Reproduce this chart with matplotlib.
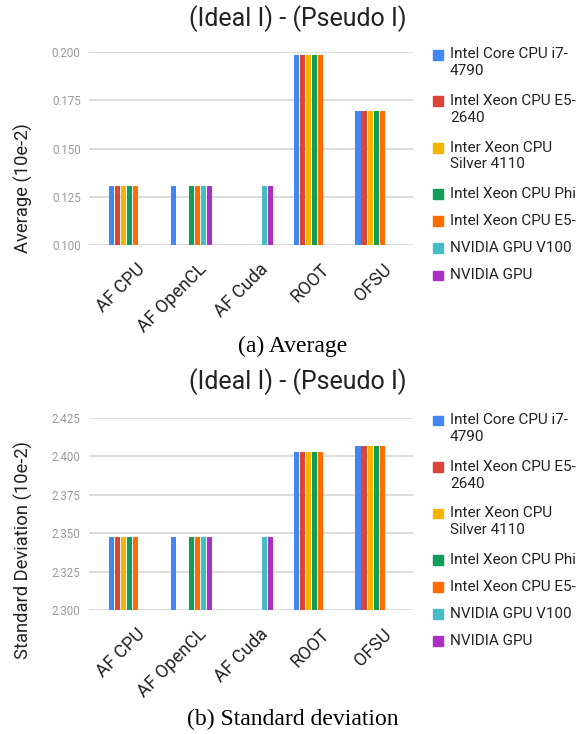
import numpy as np
import matplotlib
matplotlib.use('Agg')
import matplotlib.pyplot as plt
from matplotlib.patches import Rectangle

plt.rcParams['font.family'] = ['Roboto', 'DejaVu Sans']

W, H = 586, 734

categories = ['AF CPU', 'AF OpenCL', 'AF Cuda', 'ROOT', 'OFSU']
series = ['Intel Core CPU i7-\n4790', 'Intel Xeon CPU E5-\n2640', 'Inter Xeon CPU\nSilver 4110',
          'Intel Xeon CPU Phi', 'Intel Xeon CPU E5-', 'NVIDIA GPU V100', 'NVIDIA GPU']
colors = ['#4285F4', '#DB4437', '#F4B400', '#0F9D58', '#FF6D00', '#46BDC6', '#AB30C4']

nan = np.nan
# average (10e-2), one row per series
avg = [
    [0.1307, 0.1307, nan, 0.1984, 0.1693],
    [0.1307, nan, nan, 0.1984, 0.1693],
    [0.1307, nan, nan, 0.1984, 0.1693],
    [0.1307, 0.1307, nan, 0.1984, 0.1693],
    [0.1307, 0.1307, nan, 0.1984, 0.1693],
    [nan, 0.1307, 0.1307, nan, nan],
    [nan, 0.1307, 0.1307, nan, nan],
]
# standard deviation (10e-2)
std = [
    [2.3478, 2.3478, nan, 2.4026, 2.4066],
    [2.3478, nan, nan, 2.4026, 2.4066],
    [2.3478, nan, nan, 2.4026, 2.4066],
    [2.3478, 2.3478, nan, 2.4026, 2.4066],
    [2.3478, 2.3478, nan, 2.4026, 2.4066],
    [nan, 2.3478, 2.3478, nan, nan],
    [nan, 2.3478, 2.3478, nan, nan],
]

avg_ticks = [0.100, 0.125, 0.150, 0.175, 0.200]
std_ticks = [2.300, 2.325, 2.350, 2.375, 2.400, 2.425]

fig = plt.figure(figsize=(W / 100, H / 100), dpi=100)


def px(x, y):
    # pixel position (from top left) -> figure fraction
    return x / W, 1 - y / H


def draw(top, bottom, data, ticks, ylabel, ylabel_y, title_y, caption, caption_y):
    x0, y0 = px(89, bottom)
    ax = fig.add_axes([x0, y0, 324 / W, (bottom - top) / H])
    slot = 0.0976
    x = np.arange(len(categories))
    for i, vals in enumerate(data):
        ax.bar(x + (i - 3) * slot, vals, width=slot * 0.84, color=colors[i], zorder=3)
    ax.set_xlim(-0.66, 4.6)
    ax.set_ylim(ticks[0], ticks[-1])
    ax.set_yticks(ticks)
    ax.set_yticklabels(['%.3f' % t for t in ticks])
    ax.tick_params(axis='y', length=0, pad=6, labelsize=8.3, labelcolor='#9a9a9a')
    ax.set_xticks([])
    ax.grid(axis='y', color='#d6d6d6', linewidth=1.2, zorder=0)
    for s in ax.spines.values():
        s.set_visible(False)
    for i, c in enumerate(categories):
        ax.annotate(c, xy=(i, 0), xycoords=('data', 'axes fraction'),
                    xytext=(9, -15.5), textcoords='offset points',
                    rotation=45, ha='right', va='center', rotation_mode='anchor',
                    fontsize=13, color='#222222')

    fig.text(*px(23, ylabel_y), ylabel, rotation=90, ha='center', va='center',
             fontsize=13.2, color='#222222')
    fig.text(*px(298, title_y), '(Ideal I) - (Pseudo I)', ha='center', va='center',
             fontsize=18, color='#222222')
    fig.text(*px(293, caption_y), caption, ha='center', va='center',
             fontsize=17, family=['Liberation Serif', 'DejaVu Serif'], color='black')

    # legend
    y = top + 3
    for lab, col in zip(series, colors):
        fig.patches.append(Rectangle(px(433, y + 4.5), 9.5 / W, 9.5 / H, color=col,
                                     transform=fig.transFigure, figure=fig))
        fig.text(*px(450, y - 7.5), lab, ha='left', va='top', fontsize=11,
                 linespacing=1.27, color='#222222')
        y += 27 + 19.5 * lab.count('\n')
    return ax


draw(52, 245, avg, avg_ticks, 'Average (10e-2)', 188, 19, '(a) Average', 346)
draw(417.7, 610.3, std, std_ticks, 'Standard Deviation (10e-2)', 550, 382,
     '(b) Standard deviation', 719)

fig.savefig('out.png', dpi=100, facecolor='white')
